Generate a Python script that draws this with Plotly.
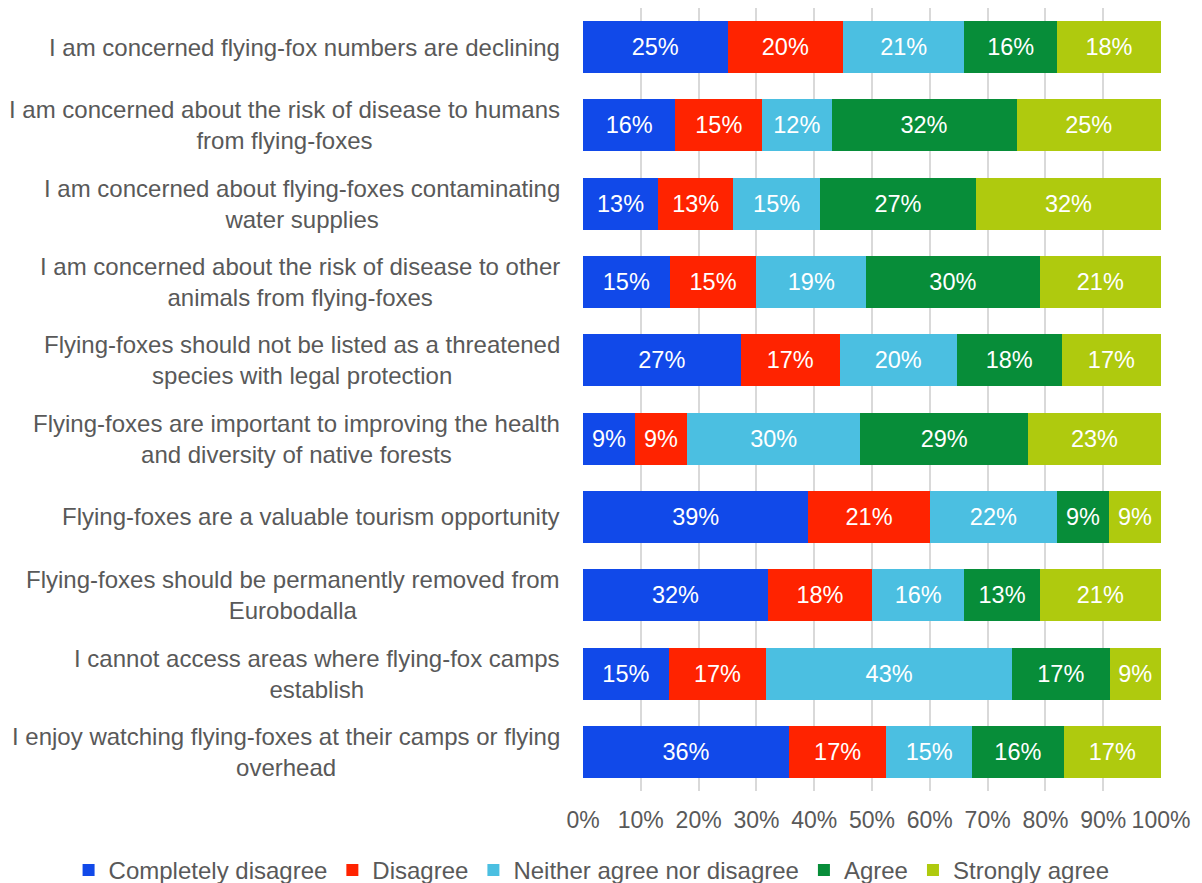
import plotly.graph_objects as go

statements = [
    "I am concerned flying-fox numbers are declining",
    "I am concerned about the risk of disease to humans<br>from flying-foxes",
    "I am concerned about flying-foxes contaminating<br>water supplies",
    "I am concerned about the risk of disease to other<br>animals from flying-foxes",
    "Flying-foxes should not be listed as a threatened<br>species with legal protection",
    "Flying-foxes are important to improving the health<br>and diversity of native forests",
    "Flying-foxes are a valuable tourism opportunity",
    "Flying-foxes should be permanently removed from<br>Eurobodalla",
    "I cannot access areas where flying-fox camps<br>establish",
    "I enjoy watching flying-foxes at their camps or flying<br>overhead",
]

responses = ["Completely disagree", "Disagree", "Neither agree nor disagree",
             "Agree", "Strongly agree"]

completely_disagree = [25, 16, 13, 15, 27, 9, 39, 32, 15, 36]
disagree = [20, 15, 13, 15, 17, 9, 21, 18, 17, 17]
neither = [21, 12, 15, 19, 20, 30, 22, 16, 43, 15]
agree = [16, 32, 27, 30, 18, 29, 9, 13, 17, 16]
strongly_agree = [18, 25, 32, 21, 17, 23, 9, 21, 9, 17]

tick_values = [0, 10, 20, 30, 40, 50, 60, 70, 80, 90, 100]
tick_labels = [f"{v}%" for v in tick_values]

series = [completely_disagree, disagree, neither, agree, strongly_agree]
colors = ["#1149E9", "#FF2300", "#4BBFE1", "#078D39", "#AFCA0E"]

FONT = "Liberation Sans, Arial, sans-serif"
GREY = "#595959"

ids = [f"s{i}" for i in range(len(statements))]

fig = go.Figure()
for name, vals, col in zip(responses, series, colors):
    fig.add_trace(go.Bar(
        name=name,
        y=ids,
        x=vals,
        orientation="h",
        marker=dict(color=col, line=dict(width=0)),
        text=[f"{v}%" for v in vals],
        textposition="inside",
        insidetextanchor="middle",
        textfont=dict(color="white", size=23.5, family=FONT),
        hoverinfo="name+x",
    ))

# statement labels: centred multi-line annotations to the left of the bars
for sid, label in zip(ids, statements):
    fig.add_annotation(
        x=0, xref="paper", y=sid, yref="y",
        text=label, showarrow=False,
        xanchor="right", yanchor="middle", align="center",
        xshift=-21,
        font=dict(size=24, color=GREY, family=FONT),
    )

fig.update_layout(
    barmode="stack",
    barnorm="percent",
    bargap=0.335,
    width=1202, height=883,
    margin=dict(l=583, r=41, t=8, b=92, autoexpand=False),
    paper_bgcolor="white",
    plot_bgcolor="white",
    font=dict(family=FONT, size=24, color=GREY),
    uniformtext=dict(minsize=23, mode="show"),
    legend=dict(
        orientation="h",
        x=-0.89, xref="paper", xanchor="left",
        y=-0.0728, yref="paper", yanchor="top",
        font=dict(size=24, color=GREY, family=FONT),
        itemwidth=30,
        tracegroupgap=0,
        traceorder="normal",
        bgcolor="rgba(0,0,0,0)",
    ),
    showlegend=True,
)

fig.update_xaxes(
    range=[0, 100],
    tickvals=tick_values,
    ticktext=tick_labels,
    showgrid=True, gridcolor="#D9D9D9", gridwidth=1.5,
    zeroline=False, showline=False,
    ticks="", ticklen=0,
    ticklabelstandoff=13,
    tickfont=dict(size=23, color=GREY, family=FONT),
)
fig.update_yaxes(
    autorange="reversed",
    showticklabels=False,
    showgrid=False, zeroline=False, showline=False,
)

fig.write_html("out.html")
